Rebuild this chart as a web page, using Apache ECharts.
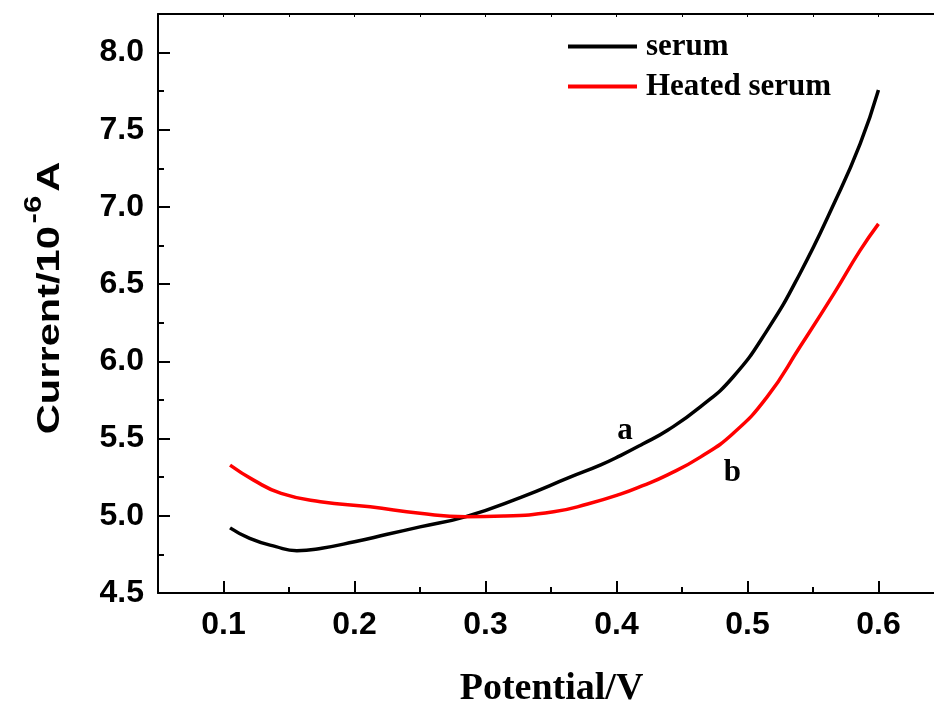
<!DOCTYPE html>
<html style="height: 100%">
<head>
    <meta charset="UTF-8">
    <script type="text/javascript" src="https://cdn.jsdelivr.net/npm/echarts@6/dist/echarts.min.js"></script>
    <style type="text/css">
        body {margin:0; padding:0; overflow:hidden; height:100%; background:#fff}
    </style>
</head>
<body>
    <div id="container" style="width:934px;height:706px"></div>
<script>
    // curve a : serum
    var serumV = [0.105, 0.12, 0.14, 0.156, 0.175, 0.2, 0.225, 0.25, 0.285, 0.327, 0.365, 0.388, 0.403, 0.42, 0.439, 0.464, 0.489, 0.515, 0.54, 0.566, 0.586, 0.6];
    var serumI = [4.922, 4.854, 4.80, 4.774, 4.79, 4.832, 4.88, 4.928, 4.995, 5.12, 5.252, 5.33, 5.39, 5.465, 5.554, 5.705, 5.899, 6.201, 6.568, 7.021, 7.409, 7.758];
    // curve b : heated serum
    var heatedV = [0.105, 0.123, 0.144, 0.174, 0.212, 0.25, 0.285, 0.314, 0.352, 0.378, 0.403, 0.42, 0.439, 0.464, 0.489, 0.515, 0.54, 0.566, 0.586, 0.6];
    var heatedI = [5.328, 5.231, 5.145, 5.091, 5.058, 5.016, 4.994, 4.998, 5.026, 5.076, 5.14, 5.195, 5.265, 5.38, 5.533, 5.770, 6.093, 6.439, 6.719, 6.891];

    var seriesNames = ['serum', 'Heated serum'];
    var curveLabels = ['a', 'b'];
    var curveLabelPos = [[0.4065, 5.55], [0.4885, 5.28]];

    var xTicks = [0.1, 0.2, 0.3, 0.4, 0.5, 0.6];
    var xMinorTicks = [0.15, 0.25, 0.35, 0.45, 0.55];
    var xTopTicks = [0.1, 0.15, 0.2, 0.25, 0.3, 0.35, 0.4, 0.45, 0.5, 0.55, 0.6];
    var yTicks = [4.5, 5.0, 5.5, 6.0, 6.5, 7.0, 7.5, 8.0];
    var yMinorTicks = [4.75, 5.25, 5.75, 6.25, 6.75, 7.25, 7.75];

    function pairs(xs, ys) {
        return xs.map(function (x, i) { return [x, ys[i]]; });
    }

    var sans = '"Liberation Sans", Arial, sans-serif';
    var serif = '"Liberation Serif", "Times New Roman", serif';
    var black = '#000';

    var myChart = echarts.init(document.getElementById('container'), null, {renderer: 'canvas'});

    var option = {
        animation: false,
        backgroundColor: '#fff',
        grid: {
            left: 158,
            top: 14,
            right: 0,
            height: 579,
            outerBoundsMode: 'none'
        },
        legend: {
            orient: 'vertical',
            left: 568,
            top: 31,
            padding: 0,
            icon: 'rect',
            itemWidth: 69,
            itemHeight: 4,
            itemGap: 9,
            data: seriesNames,
            textStyle: {
                fontFamily: serif,
                fontWeight: 'bold',
                fontSize: 31,
                color: black,
                padding: [0, 0, 0, 4]
            }
        },
        xAxis: [{
            type: 'value',
            min: 0.05,
            max: 0.6424,
            position: 'bottom',
            name: 'Potential/V',
            nameLocation: 'middle',
            nameGap: 77,
            nameTextStyle: {
                fontFamily: serif,
                fontWeight: 'bold',
                fontSize: 38,
                color: black,
                padding: [0, 0, 0, 11]
            },
            axisLine: {lineStyle: {color: black, width: 2}},
            axisTick: {inside: true, length: 12, customValues: xTicks, lineStyle: {color: black, width: 2}},
            axisLabel: {
                customValues: xTicks,
                margin: 16,
                fontFamily: sans,
                fontWeight: 'bold',
                fontSize: 32,
                color: black,
                formatter: function (v) { return v.toFixed(1); }
            },
            splitLine: {show: false}
        }, {
            // minor ticks on bottom
            type: 'value',
            min: 0.05,
            max: 0.6424,
            position: 'bottom',
            axisLine: {show: false},
            axisTick: {inside: true, length: 6, customValues: xMinorTicks, lineStyle: {color: black, width: 2}},
            axisLabel: {show: false},
            splitLine: {show: false}
        }, {
            // top frame
            type: 'value',
            min: 0.05,
            max: 0.6424,
            position: 'top',
            axisLine: {lineStyle: {color: black, width: 2}},
            axisTick: {inside: true, length: 3, customValues: xTopTicks, lineStyle: {color: black, width: 1}},
            axisLabel: {show: false},
            splitLine: {show: false}
        }],
        yAxis: [{
            type: 'value',
            min: 4.5,
            max: 8.25,
            position: 'left',
            axisLine: {lineStyle: {color: black, width: 2}},
            axisTick: {inside: true, length: 12, customValues: yTicks, lineStyle: {color: black, width: 2}},
            axisLabel: {
                customValues: yTicks,
                margin: 14,
                fontFamily: sans,
                fontWeight: 'bold',
                fontSize: 32,
                color: black,
                formatter: function (v) { return v.toFixed(1); }
            },
            splitLine: {show: false}
        }, {
            type: 'value',
            min: 4.5,
            max: 8.25,
            position: 'left',
            axisLine: {show: false},
            axisTick: {inside: true, length: 6, customValues: yMinorTicks, lineStyle: {color: black, width: 2}},
            axisLabel: {show: false},
            splitLine: {show: false}
        }],
        graphic: [{
            type: 'text',
            x: 44,
            y: 298,
            rotation: Math.PI / 2,
            scaleX: 1.3,
            style: {
                text: '{a|Current/10}{s|-6}{a|A}',
                align: 'center',
                verticalAlign: 'middle',
                rich: {
                    a: {fontFamily: sans, fontWeight: 'bold', fontSize: 32, fill: black, verticalAlign: 'bottom'},
                    s: {fontFamily: sans, fontWeight: 'bold', fontSize: 24, fill: black, verticalAlign: 'bottom', padding: [0, 3, 20, 2]}
                }
            }
        }],
        series: [{
            name: seriesNames[0],
            type: 'line',
            smooth: true,
            symbol: 'none',
            xAxisIndex: 0,
            yAxisIndex: 0,
            color: '#000000',
            lineStyle: {width: 3.5, color: '#000000'},
            data: pairs(serumV, serumI),
            markPoint: {
                symbol: 'circle',
                symbolSize: 0,
                silent: true,
                label: {show: true, position: 'inside', formatter: curveLabels[0], fontFamily: serif, fontWeight: 'bold', fontSize: 31, color: black},
                data: [{coord: curveLabelPos[0]}]
            }
        }, {
            name: seriesNames[1],
            type: 'line',
            smooth: true,
            symbol: 'none',
            xAxisIndex: 0,
            yAxisIndex: 0,
            color: '#ff0000',
            lineStyle: {width: 3.5, color: '#ff0000'},
            data: pairs(heatedV, heatedI),
            markPoint: {
                symbol: 'circle',
                symbolSize: 0,
                silent: true,
                label: {show: true, position: 'inside', formatter: curveLabels[1], fontFamily: serif, fontWeight: 'bold', fontSize: 31, color: black},
                data: [{coord: curveLabelPos[1]}]
            }
        }]
    };

    myChart.setOption(option);
    window.addEventListener("resize", function () {
        myChart.resize();
    });
</script>
</body>
</html>
